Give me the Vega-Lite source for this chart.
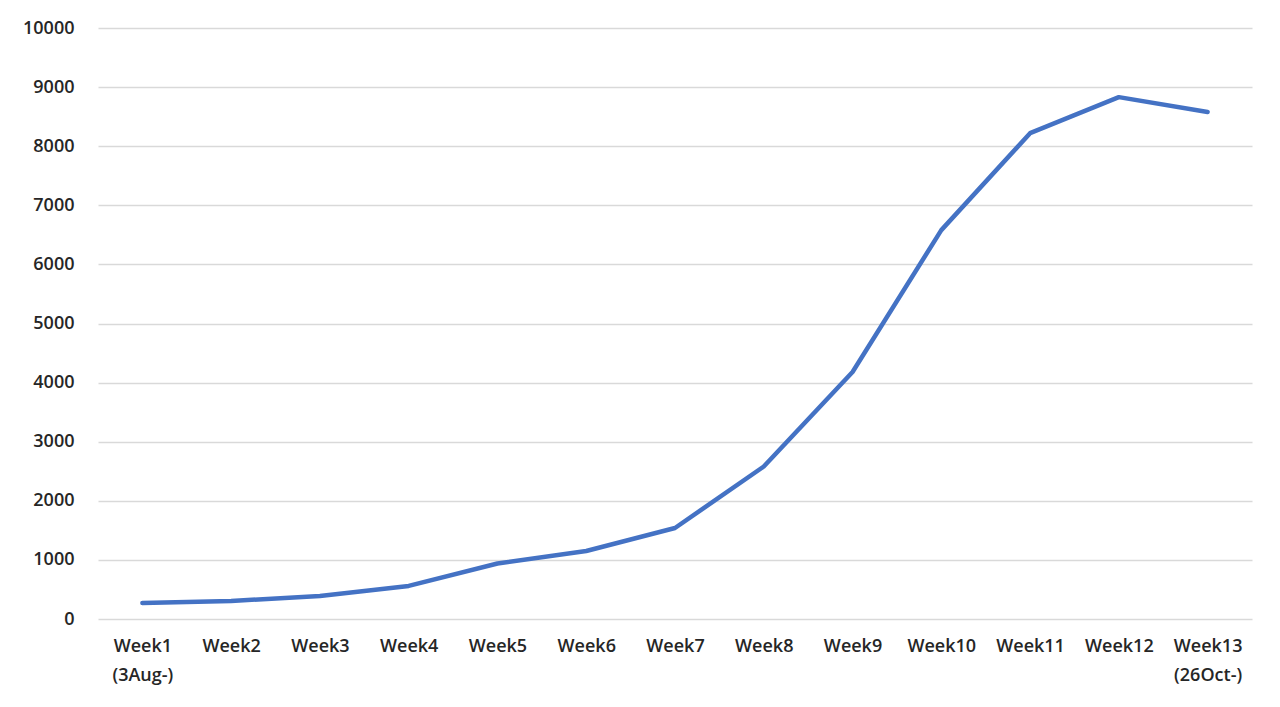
{
  "$schema": "https://vega.github.io/schema/vega-lite/v6.json",
  "autosize": "none",
  "width": 1154,
  "height": 591,
  "padding": {"left": 98, "top": 28, "right": 28, "bottom": 88},
  "background": "white",
  "config": {
    "font": "Open Sans",
    "view": {"stroke": null}
  },
  "data": {
    "values": [
      {"week": "Week1", "count": 270},
      {"week": "Week2", "count": 305},
      {"week": "Week3", "count": 390},
      {"week": "Week4", "count": 560},
      {"week": "Week5", "count": 940},
      {"week": "Week6", "count": 1150},
      {"week": "Week7", "count": 1540},
      {"week": "Week8", "count": 2580},
      {"week": "Week9", "count": 4180},
      {"week": "Week10", "count": 6580},
      {"week": "Week11", "count": 8220},
      {"week": "Week12", "count": 8830},
      {"week": "Week13", "count": 8580}
    ]
  },
  "mark": {"type": "line", "color": "#4472C4", "strokeWidth": 4.5, "strokeCap": "round", "strokeJoin": "round"},
  "encoding": {
    "x": {
      "field": "week",
      "type": "ordinal",
      "sort": null,
      "scale": {"type": "point", "padding": 0.5},
      "axis": {
        "title": null,
        "labelAngle": 0,
        "ticks": false,
        "domain": false,
        "grid": false,
        "labelFontSize": 18,
        "labelFontWeight": 600,
        "labelColor": "#262626",
        "labelPadding": 18,
        "labelLineHeight": 29,
        "labelExpr": "datum.value == 'Week1' ? ['Week1', '(3Aug-)'] : datum.value == 'Week13' ? ['Week13', '(26Oct-)'] : datum.value"
      }
    },
    "y": {
      "field": "count",
      "type": "quantitative",
      "scale": {"domain": [0, 10000]},
      "axis": {
        "title": null,
        "values": [0, 1000, 2000, 3000, 4000, 5000, 6000, 7000, 8000, 9000, 10000],
        "format": "d",
        "ticks": false,
        "domain": false,
        "gridColor": "#d9d9d9",
        "gridWidth": 1.3,
        "labelFontSize": 18,
        "labelFontWeight": 600,
        "labelColor": "#262626",
        "labelPadding": 24
      }
    }
  }
}
